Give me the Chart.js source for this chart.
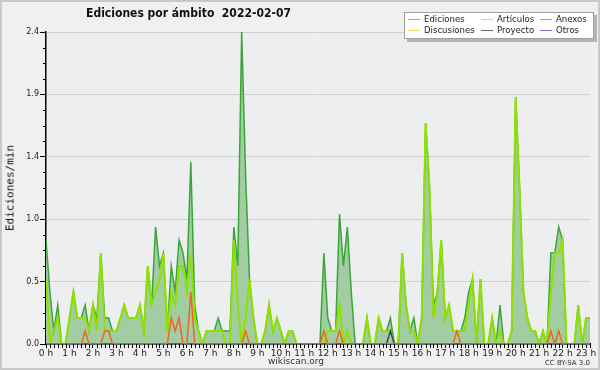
<!DOCTYPE html>
<html><head><meta charset="utf-8">
<script src="https://cdn.jsdelivr.net/npm/chart.js@4/dist/chart.umd.min.js"></script>
<style>
html,body{margin:0;padding:0;background:#f0f0f0;}
#wrap{position:relative;width:600px;height:370px;overflow:hidden;font-family:"DejaVu Sans",sans-serif;}
#c{position:absolute;left:0;top:0;}
.frame{position:absolute;left:0;top:0;width:600px;height:370px;box-sizing:border-box;border:2px solid #c8c8c8;pointer-events:none;}
#title{position:absolute;left:0;width:377px;top:6px;text-align:center;font:bold 12px "DejaVu Sans Condensed","DejaVu Sans",sans-serif;color:#111;white-space:nowrap;}
#legend{position:absolute;left:404px;top:12px;width:190px;height:27px;box-sizing:border-box;background:#fff;border:1px solid #a0a0a0;box-shadow:3px 3px 0 #b4b4b4;}
.sw{position:absolute;width:12px;height:1px;}
.lt{position:absolute;font:9.5px "DejaVu Sans Condensed","DejaVu Sans",sans-serif;color:#222;white-space:nowrap;line-height:10px;}
#ylab{position:absolute;left:10px;top:188px;transform:translate(-50%,-50%) rotate(-90deg);font:11px "DejaVu Sans Mono",monospace;color:#111;white-space:nowrap;}
#site{position:absolute;left:296px;top:356px;transform:translateX(-50%);font:9px "DejaVu Sans",sans-serif;color:#333;white-space:nowrap;}
#cc{position:absolute;right:10px;top:359px;font:7px "DejaVu Sans",sans-serif;color:#333;white-space:nowrap;}
</style></head>
<body><div id="wrap">
<canvas id="c" width="600" height="370"></canvas>
<div id="title">Ediciones por ámbito&nbsp;&nbsp;2022-02-07</div>
<div id="legend"></div>
<div id="ylab">Ediciones/min</div>
<div id="site">wikiscan.org</div>
<div id="cc">CC BY-SA 3.0</div>
<div class="frame"></div>
</div>
<script>
// 10-minute slots, values in edits per minute
const hourLabels = ['0 h','1 h','2 h','3 h','4 h','5 h','6 h','7 h','8 h','9 h','10 h','11 h','12 h','13 h','14 h','15 h','16 h','17 h','18 h','19 h','20 h','21 h','22 h','23 h'];
const yTickValues = [0, 0.48, 0.96, 1.44, 1.92, 2.4];
const yTickLabels = ['0.0','0.5','1.0','1.4','1.9','2.4'];

const ediciones = [
 0.8,0.4,0.1,0.3,0,0, 0.2,0.4,0.2,0.2,0.3,0.1, 0.3,0.2,0.7,0.2,0.2,0.1,
 0.1,0.2,0.3,0.2,0.2,0.2, 0.3,0.1,0.6,0.3,0.9,0.6, 0.7,0.1,0.6,0.4,0.8,0.7,
 0.5,1.4,0.3,0.1,0,0.1, 0.1,0.1,0.2,0.1,0.1,0.1, 0.9,0.6,2.4,1.3,0.5,0.2,
 0,0,0.1,0.3,0.1,0.2, 0.1,0,0.1,0.1,0,0, 0,0,0,0,0,0.7,
 0.2,0.1,0.1,1.0,0.6,0.9, 0.4,0,0,0,0.2,0, 0,0.2,0.1,0.1,0.2,0,
 0,0.7,0.3,0.1,0.2,0, 0.2,1.7,1.2,0.3,0.4,0.8, 0.2,0.3,0.1,0.1,0.1,0.2,
 0.4,0.5,0,0.5,0,0, 0.2,0,0.3,0,0,0.1, 1.9,1.2,0.4,0.2,0.1,0.1,
 0,0.1,0,0.7,0.7,0.9, 0.8,0,0,0,0.3,0, 0.2,0.2
];
const articulos = [
 0.5,0,0.1,0.2,0,0, 0.2,0.4,0.2,0.2,0.2,0.1, 0.3,0.1,0.7,0.1,0.1,0.1,
 0.1,0.2,0.3,0.2,0.2,0.2, 0.3,0.1,0.6,0.3,0.4,0.5, 0.7,0.1,0.4,0.3,0.6,0.6,
 0.4,0.7,0.2,0.1,0,0.1, 0.1,0.1,0.1,0.1,0,0, 0.8,0.3,0,0.2,0.5,0.2,
 0,0,0.1,0.3,0.1,0.2, 0.1,0,0.1,0.1,0,0, 0,0,0,0,0,0,
 0.1,0.1,0.1,0.3,0,0.1, 0,0,0,0,0.2,0, 0,0.2,0.1,0.1,0.1,0,
 0,0.7,0.3,0.1,0.1,0, 0.2,1.7,1.2,0.2,0.4,0.8, 0.2,0.3,0.1,0.1,0.1,0.1,
 0.3,0.5,0,0.5,0,0, 0.2,0,0.1,0,0,0.1, 1.9,1.2,0.4,0.2,0.1,0.1,
 0,0.1,0,0.4,0.7,0.7, 0.8,0,0,0,0.3,0, 0.2,0.2
];
const anexos = [
 0,0,0,0,0,0, 0,0,0,0,0.1,0, 0,0,0,0.1,0.1,0,
 0,0,0,0,0,0, 0,0,0,0,0,0, 0,0,0.2,0.1,0.2,0,
 0,0.4,0,0,0,0, 0,0,0,0,0,0, 0,0,0,0.1,0,0,
 0,0,0,0,0,0, 0,0,0,0,0,0, 0,0,0,0,0,0.1,
 0,0,0,0.1,0,0, 0,0,0,0,0,0, 0,0,0,0,0,0,
 0,0,0,0,0,0, 0,0,0,0,0,0, 0,0,0,0.1,0,0,
 0,0,0,0,0,0, 0,0,0,0,0,0, 0,0,0,0,0,0,
 0,0,0,0.1,0,0.1, 0,0,0,0,0,0, 0,0
];
const discusiones = [
 0,0,0,0,0,0, 0,0,0,0,0,0, 0,0,0,0,0,0,
 0,0,0,0,0,0, 0,0,0,0,0,0, 0,0,0,0,0,0,
 0,0,0,0,0,0, 0,0,0,0,0,0, 0,0,0,0,0,0,
 0,0,0,0,0,0, 0,0,0,0,0,0, 0,0,0,0,0,0,
 0,0,0,0,0,0, 0,0,0,0,0,0, 0,0,0,0,0,0,
 0,0,0,0,0,0, 0,0,0,0,0,0, 0,0,0,0,0,0,
 0,0,0,0,0,0, 0,0,0,0,0,0, 0,0,0,0,0,0,
 0,0,0,0,0,0, 0,0,0,0,0,0, 0,0
];
const proyecto = [
 0,0,0,0,0,0, 0,0,0,0,0,0, 0,0,0,0,0,0,
 0,0,0,0,0,0, 0,0,0,0,0,0, 0,0,0,0,0,0,
 0,0,0,0,0,0, 0,0,0,0,0,0, 0,0,0,0,0,0,
 0,0,0,0,0,0, 0,0,0,0,0,0, 0,0,0,0,0,0,
 0,0,0,0,0,0, 0,0,0,0,0,0, 0,0,0,0,0.1,0,
 0,0,0,0,0,0, 0,0,0,0,0,0, 0,0,0,0,0,0,
 0,0,0,0,0,0, 0,0,0,0,0,0, 0,0,0,0,0,0,
 0,0,0,0,0,0, 0,0,0,0,0,0, 0,0
];
const otros = [
 0,0,0,0,0,0, 0,0,0,0,0,0, 0,0,0,0,0,0,
 0,0,0,0,0,0, 0,0,0,0,0,0, 0,0,0,0,0,0,
 0,0,0,0,0,0, 0,0,0,0,0,0, 0,0,0,0,0,0,
 0,0,0,0,0,0, 0,0,0,0,0,0, 0,0,0,0,0,0,
 0,0,0,0,0,0, 0,0,0,0,0,0, 0,0,0,0,0,0,
 0,0,0,0,0,0, 0,0,0,0,0,0, 0,0,0,0,0,0,
 0,0,0,0,0,0, 0,0,0,0,0,0, 0,0,0,0,0,0,
 0,0,0,0,0,0, 0,0,0,0,0,0, 0,0
];

// time of each slot in hours (slot index * 10 min)
const slotHours = ediciones.map((_, i) => i / 6);
const pts = arr => arr.map((v, i) => ({x: slotHours[i], y: v}));

const series = [
 {label:'Ediciones',   data:ediciones,   color:'#3aa63a', legend:'#7cc47c', width:1.5, order:5, fill:'origin'},
 {label:'Artículos',   data:articulos,   color:'#90e000', legend:'#c4ec5c', width:2,   order:2, fill:false},
 {label:'Anexos',      data:anexos,      color:'#ee6622', legend:'#f08a5a', width:1.5, order:0, fill:false},
 {label:'Discusiones', data:discusiones, color:'#ffcc33', legend:'#f8d860', width:1.5, order:3, fill:false},
 {label:'Proyecto',    data:proyecto,    color:'#444444', legend:'#666666', width:1.5, order:1, fill:false},
 {label:'Otros',       data:otros,       color:'#8844ee', legend:'#9a66ee', width:1.5, order:4, fill:false}
];

// legend (3 columns x 2 rows)
const legendPos = [[3,5],[76,5],[135,5],[3,16],[76,16],[135,16]];
const lg = document.getElementById('legend');
series.forEach((s, k) => {
  const [lx, ly] = legendPos[k];
  const sw = document.createElement('div'); sw.className = 'sw';
  sw.style.left = lx + 'px'; sw.style.top = (ly + 1) + 'px'; sw.style.background = s.legend;
  const tx = document.createElement('div'); tx.className = 'lt';
  tx.style.left = (lx + 16) + 'px'; tx.style.top = (ly - 4) + 'px'; tx.textContent = s.label;
  lg.appendChild(sw); lg.appendChild(tx);
});

const bgPlugin = {
  id:'bg',
  beforeDraw(chart){
    const {ctx, chartArea:a} = chart;
    ctx.save();
    ctx.fillStyle = '#f0f0f0'; ctx.fillRect(0,0,chart.width,chart.height);
    ctx.fillStyle = '#eceef0'; ctx.fillRect(a.left,a.top,a.right-a.left,a.bottom-a.top);
    ctx.restore();
  }
};
const minorTicks = {
  id:'minor',
  afterDraw(chart){
    const {ctx, chartArea:a, scales:{x, y}} = chart;
    ctx.save(); ctx.strokeStyle = '#000'; ctx.lineWidth = 1; ctx.beginPath();
    slotHours.forEach((t, i) => {
      if (i % 6) { const px = Math.round(x.getPixelForValue(t)) + 0.5; ctx.moveTo(px, a.bottom); ctx.lineTo(px, a.bottom + 4); }
    });
    for (let k = 1; k < 20; k++) {
      if (k % 4) { const py = Math.round(y.getPixelForValue(k * 0.12)) + 0.5; ctx.moveTo(a.left - 3, py); ctx.lineTo(a.left, py); }
    }
    ctx.stroke(); ctx.restore();
  }
};

new Chart(document.getElementById('c'), {
  type:'line',
  data:{datasets: series.map(s => ({
    label:s.label, data:pts(s.data), borderColor:s.color, borderWidth:s.width,
    backgroundColor: s.fill ? '#a2cda2' : s.color, fill:s.fill, order:s.order,
    pointRadius:0, tension:0
  }))},
  options:{
    responsive:false, animation:false, devicePixelRatio:1,
    layout:{padding:{left:0,right:10,top:32,bottom:0}},
    plugins:{legend:{display:false}, title:{display:false}, tooltip:{enabled:false}},
    scales:{
      x:{type:'linear', min:0, max:slotHours[slotHours.length-1], z:1,
         afterFit(s){ s.height = 26; },
         afterBuildTicks(s){ s.ticks = hourLabels.map((l, h) => ({value:h})); },
         ticks:{callback:(v, i) => hourLabels[i], autoSkip:false, maxRotation:0, padding:0, color:'#222', font:{size:9, family:'DejaVu Sans'}},
         grid:{drawOnChartArea:false, tickLength:4, tickColor:'#000'},
         border:{color:'#000', width:1.5}},
      y:{min:0, max:2.4,
         afterFit(s){ s.width = 46; },
         afterBuildTicks(s){ s.ticks = yTickValues.map(v => ({value:v})); },
         ticks:{callback:(v, i) => yTickLabels[i], padding:1, color:'#222', font:{size:8, family:'DejaVu Sans'}},
         grid:{color:'#cfcfcf', tickColor:'#000', tickLength:6},
         border:{color:'#000', width:1.5}}
    }
  },
  plugins:[bgPlugin, minorTicks]
});
</script>
</body></html>
